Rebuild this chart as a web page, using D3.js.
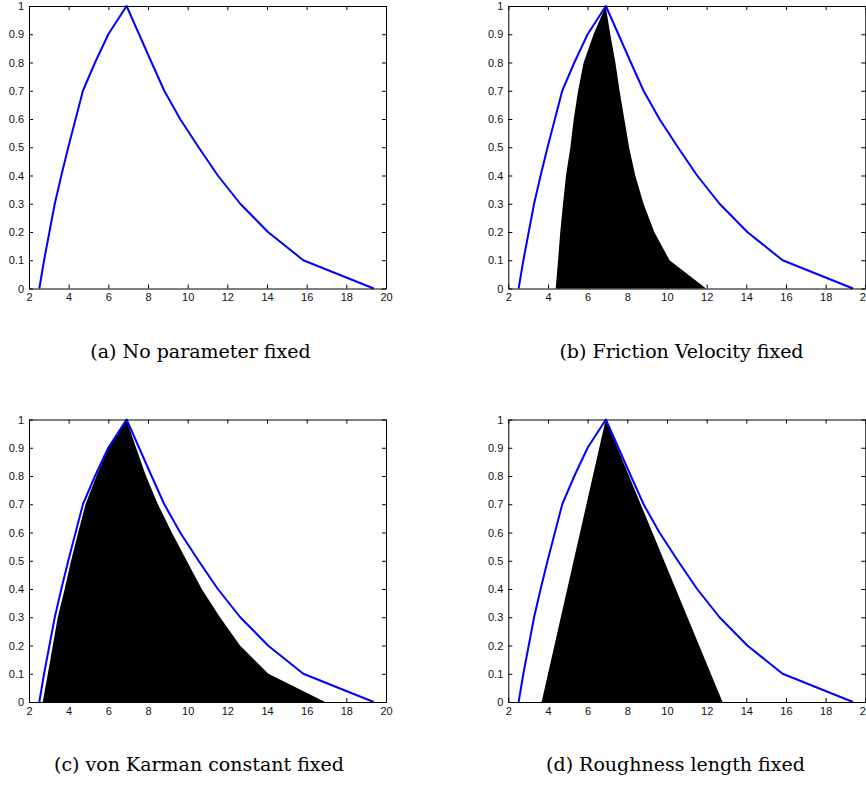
<!DOCTYPE html>
<html>
<head>
<meta charset="utf-8">
<script src="https://cdn.jsdelivr.net/npm/d3@7"></script>
<style>
  body { margin: 0; background: #fff; }
  svg { display: block; }
  .tick text { font-family: "Liberation Sans", Arial, sans-serif; font-size: 11px; fill: #111; }
  .caption { font-family: "DejaVu Serif", "Liberation Serif", serif; font-size: 19px; fill: #000; }
</style>
</head>
<body>
<svg id="chart" width="866" height="785"></svg>
<script>
// membership levels (alpha cuts) shared by all curves
const levels = [0, 0.1, 0.2, 0.3, 0.4, 0.5, 0.6, 0.7, 0.8, 0.9, 1];
const xTicks = [2, 4, 6, 8, 10, 12, 14, 16, 18, 20];
const yTicks = [0, 0.1, 0.2, 0.3, 0.4, 0.5, 0.6, 0.7, 0.8, 0.9, 1];

// blue curve: no parameter fixed (left / right bound per level)
const freeLeft  = [2.52, 2.76, 3.03, 3.30, 3.63, 3.98, 4.35, 4.72, 5.33, 6.00, 6.92];
const freeRight = [19.38, 15.83, 14.05, 12.65, 11.52, 10.55, 9.62, 8.82, 8.18, 7.55, 6.92];

// black areas
const frictionLeft  = [4.39, 4.51, 4.62, 4.76, 4.91, 5.13, 5.30, 5.52, 5.80, 6.30, 6.91];
const frictionRight = [11.97, 10.13, 9.36, 8.82, 8.40, 8.09, 7.85, 7.61, 7.40, 7.14, 6.91];

const karmanLeft  = [2.69, 2.95, 3.20, 3.45, 3.80, 4.12, 4.48, 4.85, 5.40, 6.02, 6.91];
const karmanRight = [16.93, 14.07, 12.64, 11.63, 10.71, 9.95, 9.20, 8.50, 7.90, 7.40, 6.91];

const roughX = [3.68, 6.91, 12.8];
const roughY = [0, 1, 0];

const captions = [
  "(a) No parameter fixed",
  "(b) Friction Velocity fixed",
  "(c) von Karman constant fixed",
  "(d) Roughness length fixed"
];

// left bound going up, then right bound coming down
function cutShape(left, right) {
  const pts = levels.map((l, i) => [left[i], l]);
  for (let i = levels.length - 1; i >= 0; i--) pts.push([right[i], levels[i]]);
  return pts;
}

const shapes = [
  null,
  cutShape(frictionLeft, frictionRight),
  cutShape(karmanLeft, karmanRight),
  roughX.map((v, i) => [v, roughY[i]])
];

const blueCurve = cutShape(freeLeft, freeRight);

const panels = [
  { left: 29,    top: 6,     cx: 200.5, cy: 358 },
  { left: 508.3, top: 6,     cx: 681.5, cy: 358 },
  { left: 29,    top: 419.5, cx: 199,   cy: 771 },
  { left: 508.3, top: 419.5, cx: 675.5, cy: 771 }
];
const W = 357, H = 282.5;

const svg = d3.select("#chart");

panels.forEach((p, k) => {
  const g = svg.append("g").attr("transform", `translate(${p.left},${p.top})`);
  const x = d3.scaleLinear().domain([2, 20]).range([0, W]);
  const y = d3.scaleLinear().domain([0, 1]).range([H, 0]);

  if (shapes[k]) {
    g.append("path")
      .datum(shapes[k])
      .attr("fill", "#000")
      .attr("stroke", "none")
      .attr("d", d3.line().x(d => x(d[0])).y(d => y(d[1])).curve(d3.curveLinearClosed));
  }

  g.append("path")
    .datum(blueCurve)
    .attr("fill", "none")
    .attr("stroke", "#0000ff")
    .attr("stroke-width", 2)
    .attr("stroke-linejoin", "round")
    .attr("d", d3.line().x(d => x(d[0])).y(d => y(d[1])));

  // matlab style box with inward ticks
  g.append("g")
    .attr("transform", `translate(0,${H})`)
    .call(d3.axisBottom(x).tickValues(xTicks).tickSize(-4).tickSizeOuter(0).tickPadding(5).tickFormat(d3.format("d")));
  g.append("g")
    .call(d3.axisTop(x).tickValues(xTicks).tickSize(-4).tickSizeOuter(0).tickFormat(""));
  g.append("g")
    .call(d3.axisLeft(y).tickValues(yTicks).tickSize(-4).tickSizeOuter(0).tickPadding(5).tickFormat(d3.format("~g")));
  g.append("g")
    .attr("transform", `translate(${W},0)`)
    .call(d3.axisRight(y).tickValues(yTicks).tickSize(-4).tickSizeOuter(0).tickFormat(""));

  g.selectAll(".domain").attr("stroke", "#000").attr("stroke-width", 1);
  g.selectAll(".tick line").attr("stroke", "#000");

  svg.append("text")
    .attr("class", "caption")
    .attr("x", p.cx)
    .attr("y", p.cy)
    .attr("text-anchor", "middle")
    .text(captions[k]);
});
</script>
</body>
</html>
